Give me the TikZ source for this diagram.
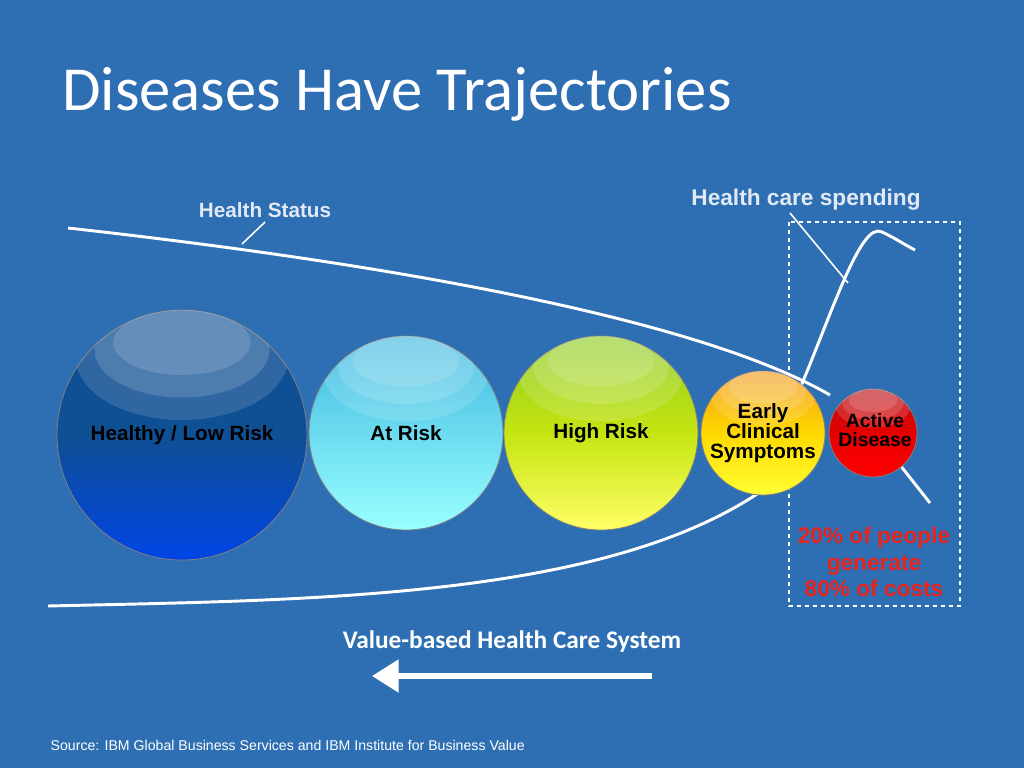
\documentclass[tikz,border=0pt]{standalone}
\usepackage{fontspec}
\setmainfont{Liberation Sans}
\newfontfamily\carl{Carlito}
\usetikzlibrary{arrows.meta}
\definecolor{bg}{HTML}{2E6FB3}
\definecolor{redtxt}{HTML}{E8231E}
\tikzset{
  curve/.style={white,line width=2.2pt},
  thin/.style={white,line width=1.2pt},
  lbl/.style={text=black,font=\bfseries\fontsize{15.5}{17}\selectfont,align=center},
  sph/.style 2 args={circle,draw=black!50,line width=0.6pt,minimum size=#1*0.75pt,inner sep=0pt,top color=#2,bottom color=#2!60!white,middle color=#2!85!white},
  glossy/.style={white,opacity=0.14},
}
\begin{document}
\begin{tikzpicture}[x=0.75pt,y=-0.75pt]
\fill[bg] (0,0) rectangle (1024,768);
\useasboundingbox (0,0) rectangle (1024,768);
\node[anchor=base west,text=white,font=\carl\fontsize{47}{52}\selectfont,inner sep=0] (title) at (62,110) {Diseases Have Trajectories};
% upper curve
\draw[curve] (68,228) .. controls (400,265) and (700,320) .. (830,395);
\draw[curve] (900,465) -- (930,503);
% lower curve
\draw[curve] (48,606) .. controls (300,600) and (600,600) .. (760,492);
% spending curve
\draw[curve] (795,400) .. controls (830,320) and (860,220) .. (882,232) .. controls (895,238) and (905,245) .. (915,250);
% dashed box
\draw[white,dashed,line width=0.8pt] (789,222) rectangle (960,606);
% spheres
\definecolor{c1}{HTML}{0F4F93}\definecolor{c2}{HTML}{3FB8E0}\definecolor{c3}{HTML}{8CCB22}\definecolor{c4}{HTML}{F49A1A}\definecolor{c5}{HTML}{B80E14}
\node[sph={250}{c1},bottom color=blue!70!cyan!90!black,middle color=c1] (h) at (182,435) {};
\node[sph={194}{c2},bottom color=cyan!40!white] (a) at (406,433) {};
\node[sph={194}{c3},bottom color=yellow!60!white,middle color=c3!50!yellow] (r) at (601,433) {};
\node[sph={124}{c4},bottom color=yellow!80!white,middle color=orange!30!yellow] (e) at (763,433) {};
\node[sph={88}{c5},bottom color=red,middle color=red!90!black] (d) at (873,433) {};
\foreach \n/\cx/\cy/\r in {h/182/435/125, a/406/433/97, r/601/433/97, e/763/433/62, d/873/433/44}{
  \begin{scope}
  \clip (\n) circle ({\r});
  \fill[glossy] (\cx,{\cy-0.62*\r}) ellipse ({0.85*\r} and {0.5*\r});
  \fill[glossy] (\cx,{\cy-0.68*\r}) ellipse ({0.7*\r} and {0.38*\r});
  \fill[glossy] (\cx,{\cy-0.74*\r}) ellipse ({0.55*\r} and {0.26*\r});
  \end{scope}
}
\node[lbl] at (h) {Healthy / Low Risk};
\node[lbl] at (a) {At Risk};
\node[lbl] at (r) {High Risk};
\node[lbl] at (e) {Early\\[-2pt]Clinical\\[-2pt]Symptoms};
\node[lbl,font=\bfseries\fontsize{14.5}{15}\selectfont] at (875,430) {Active\\[-1pt]Disease};
% labels
\node[text=white!85!bg,font=\bfseries\fontsize{15.5}{18}\selectfont] (hs) at (265,210) {Health Status};
\coordinate (hsp) at (242,244);
\draw[thin] (265,222) -- (hsp);
\node[text=white!85!bg,font=\bfseries\fontsize{17}{18}\selectfont] (hc) at (806,200) {Health care spending};
\coordinate (hcp) at (848,283);
\draw[thin] (790,213) -- (hcp);
\node[text=redtxt,font=\bfseries\fontsize{17}{20}\selectfont,align=center] (pc) at (874,562) {20\% of people\\generate\\80\% of costs};
\node[text=white,font=\carl\bfseries\fontsize{19}{22}\selectfont] (vb) at (512,642) {Value-based Health Care System};
\coordinate (as) at (652,676);
\coordinate (ae) at (372,676);
\draw[white,line width=4pt,-{Triangle[length=20pt,width=24pt]}] (as) -- (ae);
\node[anchor=west,text=white,font=\fontsize{10.6}{12}\selectfont] (src) at (46,745) {Source: IBM Global Business Services and IBM Institute for Business Value};
\end{tikzpicture}
\end{document}
